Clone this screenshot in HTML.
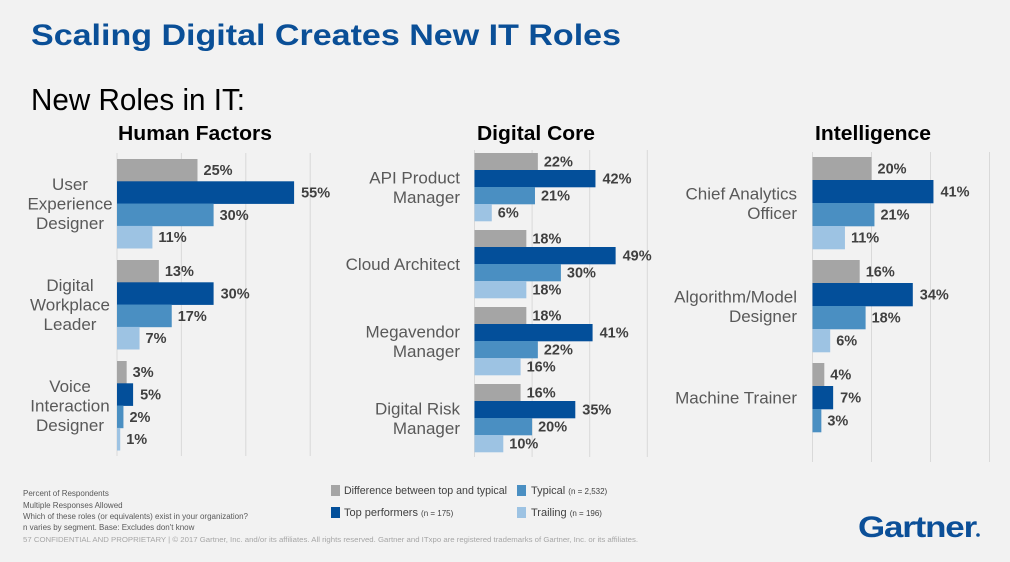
<!DOCTYPE html>
<html><head><meta charset="utf-8"><style>
html,body{margin:0;padding:0;background:#f2f2f2;}
svg{display:block;font-family:"Liberation Sans",Arial,sans-serif;}
</style></head><body>
<svg id="s" width="1010" height="562" viewBox="0 0 1010 562">
<rect width="1010" height="562" fill="#f2f2f2"/>
<text x="31" y="45" font-size="30" font-weight="bold" fill="#0a4f97" textLength="590" lengthAdjust="spacingAndGlyphs">Scaling Digital Creates New IT Roles</text>
<text x="31" y="110" font-size="31" fill="#000" textLength="214" lengthAdjust="spacingAndGlyphs">New Roles in IT:</text>
<g id="charts"></g>
<g font-size="8" fill="#595959">
<text x="23" y="496">Percent of Respondents</text>
<text x="23" y="508">Multiple Responses Allowed</text>
<text x="23" y="519">Which of these roles (or equivalents) exist in your organization?</text>
<text x="23" y="530">n varies by segment. Base: Excludes don't know</text>
<text x="23" y="542" font-size="7" fill="#a6a6a6" textLength="615" lengthAdjust="spacingAndGlyphs">57   CONFIDENTIAL AND PROPRIETARY  |  © 2017 Gartner, Inc. and/or its affiliates. All rights reserved. Gartner and ITxpo are registered trademarks of Gartner, Inc. or its affiliates.</text>
</g>
<g font-size="11" fill="#404040">
<rect x="331" y="485" width="9" height="11" fill="#a5a5a5"/>
<text x="344" y="494" textLength="163" lengthAdjust="spacingAndGlyphs">Difference between top and typical</text>
<rect x="331" y="507" width="9" height="11" fill="#034f9a"/>
<text x="344" y="516">Top performers <tspan font-size="8">(n = 175)</tspan></text>
<rect x="517" y="485" width="9" height="11" fill="#4a8fc2"/>
<text x="531" y="494">Typical <tspan font-size="8">(n = 2,532)</tspan></text>
<rect x="517" y="507" width="9" height="11" fill="#9dc3e3"/>
<text x="531" y="516">Trailing <tspan font-size="8">(n = 196)</tspan></text>
</g>
<text x="858" y="537" font-size="30" font-weight="bold" fill="#0b4f98" letter-spacing="-1" textLength="118" lengthAdjust="spacingAndGlyphs">Gartner</text>
<circle cx="978" cy="535" r="1.8" fill="#0b4f98"/>
</svg>
<script>
const colors = ["#a5a5a5","#034f9a","#4a8fc2","#9dc3e3"];
const hfCategories = [["User","Experience","Designer"],["Digital","Workplace","Leader"],["Voice","Interaction","Designer"]];
const hfValues = [[25,55,30,11],[13,30,17,7],[3,5,2,1]];
const dcCategories = [["API Product","Manager"],["Cloud Architect"],["Megavendor","Manager"],["Digital Risk","Manager"]];
const dcValues = [[22,42,21,6],[18,49,30,18],[18,41,22,16],[16,35,20,10]];
const inCategories = [["Chief Analytics","Officer"],["Algorithm/Model","Designer"],["Machine Trainer"]];
const inValues = [[20,41,21,11],[16,34,18,6],[4,7,3]];
const gridTicks = [0,20,40,60];

const panels = [
 {name:"human-factors",title:"Human Factors",tx:118,tw:154,cats:hfCategories,vals:hfValues,x0:117,ppu:3.22,top:159,pitch:101,bh:22.3,gy0:153,gy1:456,labelX:102},
 {name:"digital-core",title:"Digital Core",tx:477,tw:118,cats:dcCategories,vals:dcValues,x0:474.5,ppu:2.88,top:153,pitch:77,bh:17,gy0:150,gy1:457,labelX:460},
 {name:"intelligence",title:"Intelligence",tx:815,tw:116,cats:inCategories,vals:inValues,x0:812.5,ppu:2.95,top:157,pitch:103,bh:23,gy0:152,gy1:462,labelX:797}
];
const NS="http://www.w3.org/2000/svg";
const root=document.getElementById("charts");
function mk(tag,attrs,parent){const e=document.createElementNS(NS,tag);for(const k in attrs)e.setAttribute(k,attrs[k]);parent.appendChild(e);return e;}
panels.forEach(p=>{
 const g=mk("g",{},root);
 
 
 const xs=v=>p.x0+v*p.ppu;
 const t=mk("text",{x:p.tx,y:140,"font-size":20,"font-weight":"bold",fill:"#000",textLength:p.tw,lengthAdjust:"spacingAndGlyphs"},g);
 t.textContent=p.title;
 
 
 gridTicks.forEach(v=>{
  const l=mk("line",{x1:xs(v),x2:xs(v),y1:p.gy0,y2:p.gy1,stroke:"#d9d9d9","stroke-width":1},g);
  
  
 });
 p.vals.forEach((grp,i)=>{
  const gTop=p.top+i*p.pitch;
  grp.forEach((v,j)=>{
   const y=gTop+j*p.bh;
   const r=mk("rect",{x:xs(0),y:y,width:v*p.ppu,height:p.bh+0.3,fill:colors[j]},g);
   
   
   const tx=mk("text",{x:xs(v)+(j===1?7:6),y:y+p.bh/2+5,"font-size":14.5,"font-weight":"bold",fill:"#404040"},g);
   tx.textContent=v+"%";
   
   
  });
  const lines=p.cats[i];
  const cy=gTop+grp.length*p.bh/2;
  const lh=19.5;
  lines.forEach((s,k)=>{
   const y=cy+(k-(lines.length-1)/2)*lh+6;
   const c=mk("text",{x:p.labelX,y:y,"font-size":17,fill:"#595959","text-anchor":(p.name==="human-factors"?"middle":"end")},g);
   if(p.name==="human-factors") c.setAttribute("x",70);
   c.textContent=s;
   
   
  });
 });
});
</script>
</body></html>
